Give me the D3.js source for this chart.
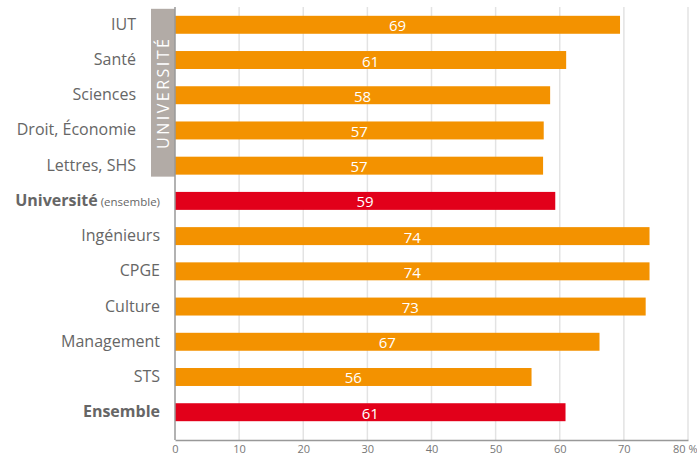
<!DOCTYPE html>
<html>
  <body>
    <script src="https://d3js.org/d3.v7.min.js" charset="utf-8"></script>
    <style>
      body{ margin: 0; background: #fff; font-family: "Open Sans", sans-serif;}
      .cat{ fill: #666; font-size: 16px; }
      .val{ fill: #fff; font-size: 15px; text-anchor: middle; }
      .tick text{ fill: #777; font-size: 11px; }
    </style>
    <script>
var categories = ['IUT', 'Santé', 'Sciences', 'Droit, Économie', 'Lettres, SHS',
  'Université', 'Ingénieurs', 'CPGE', 'Culture', 'Management', 'STS', 'Ensemble']
var values = [69.4, 61, 58.5, 57.5, 57.4, 59.3, 74, 74, 73.4, 66.2, 55.6, 60.9]
var labels = [69, 61, 58, 57, 57, 59, 74, 74, 73, 67, 56, 61]
var totals = ['Université', 'Ensemble']
var univGroup = ['IUT', 'Santé', 'Sciences', 'Droit, Économie', 'Lettres, SHS']
var ticks = [0, 10, 20, 30, 40, 50, 60, 70, 80]

var W = 697, H = 456, mLeft = 175, mRight = 688, mTop = 7, mBottom = 440

var svg = d3.select('body').append('svg').attr('width', W).attr('height', H)

var x = d3.scaleLinear().domain([0, 80]).range([mLeft, mRight])
var y = d3.scaleBand().domain(categories).range([mTop, mTop + 35.25 * 12]).paddingInner(0.49).paddingOuter(0.25)

// gridlines
svg.append('g').selectAll('line').data(ticks.slice(1))
  .join('line')
  .attr('x1', d => x(d)).attr('x2', d => x(d))
  .attr('y1', mTop).attr('y2', mBottom)
  .attr('stroke', '#e3e3e3').attr('stroke-width', 1.5)

// bottom axis
var ax = svg.append('g').attr('transform', 'translate(0,' + mBottom + ')')
  .call(d3.axisBottom(x).tickValues(ticks).tickSize(0).tickPadding(5)
    .tickFormat(d => d == 80 ? '80 %' : d))
ax.select('.domain').attr('stroke', '#999').attr('stroke-width', 1.5)
ax.selectAll('.tick text').attr('font-family', '"Open Sans", sans-serif')
ax.selectAll('.tick').filter(d => d == 80).select('text').attr('text-anchor', 'end').attr('dx', 9)

// bars
svg.append('g').selectAll('rect').data(categories)
  .join('rect')
  .attr('x', mLeft)
  .attr('y', d => y(d))
  .attr('height', y.bandwidth())
  .attr('width', (d, i) => x(values[i]) - mLeft)
  .attr('fill', d => totals.includes(d) ? '#e2001a' : '#f39200')

svg.append('g').selectAll('text').data(categories)
  .join('text')
  .attr('class', 'val')
  .attr('x', (d, i) => (mLeft + x(values[i])) / 2)
  .attr('y', d => y(d) + y.bandwidth() / 2 + 6.5)
  .text((d, i) => labels[i])

// université bracket
var gy0 = y(univGroup[0]) - 7, gy1 = y(univGroup[4]) + y.bandwidth() + 2
svg.append('rect').attr('x', 151).attr('y', gy0).attr('width', 24).attr('height', gy1 - gy0)
  .attr('fill', '#b2aba6')
svg.append('text')
  .attr('transform', 'translate(169,' + ((gy0 + gy1) / 2) + ') rotate(-90)')
  .attr('text-anchor', 'middle')
  .attr('fill', '#fff').attr('font-size', 16).attr('letter-spacing', 2.5)
  .text('UNIVERSITÉ')

// vertical axis line
svg.append('line').attr('x1', mLeft).attr('x2', mLeft).attr('y1', mTop).attr('y2', mBottom)
  .attr('stroke', '#999').attr('stroke-width', 1.5)

// category labels
var cat = svg.append('g').selectAll('text').data(categories)
  .join('text')
  .attr('class', 'cat')
  .attr('text-anchor', 'end')
  .attr('x', d => univGroup.includes(d) ? 136 : 160)
  .attr('y', d => y(d) + y.bandwidth() / 2 + 5)
cat.filter(d => !totals.includes(d)).text(d => d)
cat.filter(d => d == 'Ensemble').attr('font-weight', 'bold').text(d => d)
var u = cat.filter(d => d == 'Université')
u.append('tspan').attr('font-weight', 'bold').text('Université')
u.append('tspan').attr('font-size', 11.5).text(' (ensemble)')
    </script>
  </body>
</html>
